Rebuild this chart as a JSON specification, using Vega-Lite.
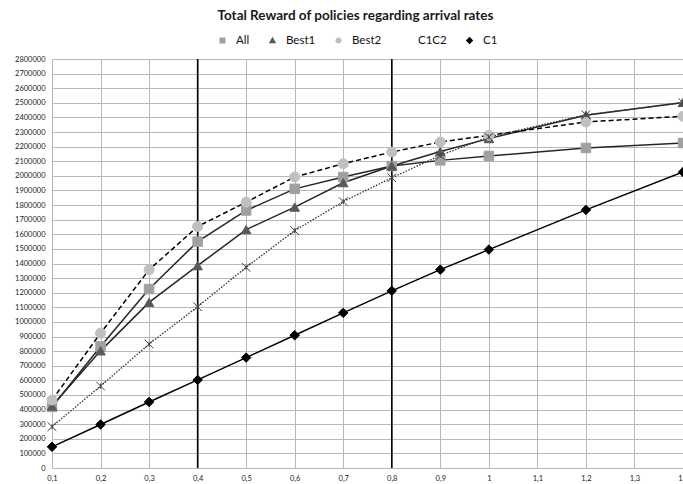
{
  "$schema": "https://vega.github.io/schema/vega-lite/v6.json",
  "autosize": {"type": "none"},
  "width": 631,
  "height": 409,
  "padding": {"left": 52, "top": 59, "right": 0, "bottom": 16},
  "background": "white",
  "title": {
    "text": "Total Reward of policies regarding arrival rates",
    "font": "Lato",
    "fontSize": 13.5,
    "fontWeight": "bold",
    "color": "#1a1a1a",
    "offset": 6,
    "frame": "group",
    "dx": -12
  },
  "config": {
    "view": {"stroke": null},
    "axis": {
      "labelFont": "Lato",
      "labelFontSize": 7.5,
      "labelColor": "#222222",
      "gridColor": "#B8B8B8",
      "gridWidth": 1,
      "ticks": false,
      "title": null
    },
    "legend": {"labelFont": "Lato", "labelFontSize": 11.5, "labelColor": "#111111"}
  },
  "data": {
    "values": [
      {"x": 0.1, "series": "All", "value": 418000},
      {"x": 0.2, "series": "All", "value": 832000},
      {"x": 0.3, "series": "All", "value": 1225000},
      {"x": 0.4, "series": "All", "value": 1550000},
      {"x": 0.5, "series": "All", "value": 1763000},
      {"x": 0.6, "series": "All", "value": 1911000},
      {"x": 0.7, "series": "All", "value": 1992000},
      {"x": 0.8, "series": "All", "value": 2067000},
      {"x": 0.9, "series": "All", "value": 2106000},
      {"x": 1.0, "series": "All", "value": 2136000},
      {"x": 1.2, "series": "All", "value": 2191000},
      {"x": 1.4, "series": "All", "value": 2225000},
      {"x": 0.1, "series": "Best1", "value": 424000},
      {"x": 0.2, "series": "Best1", "value": 802000},
      {"x": 0.3, "series": "Best1", "value": 1134000},
      {"x": 0.4, "series": "Best1", "value": 1385000},
      {"x": 0.5, "series": "Best1", "value": 1632000},
      {"x": 0.6, "series": "Best1", "value": 1786000},
      {"x": 0.7, "series": "Best1", "value": 1953000},
      {"x": 0.8, "series": "Best1", "value": 2067000},
      {"x": 0.9, "series": "Best1", "value": 2167000},
      {"x": 1.0, "series": "Best1", "value": 2255000},
      {"x": 1.2, "series": "Best1", "value": 2415000},
      {"x": 1.4, "series": "Best1", "value": 2503000},
      {"x": 0.1, "series": "Best2", "value": 465000},
      {"x": 0.2, "series": "Best2", "value": 923000},
      {"x": 0.3, "series": "Best2", "value": 1357000},
      {"x": 0.4, "series": "Best2", "value": 1653000},
      {"x": 0.5, "series": "Best2", "value": 1820000},
      {"x": 0.6, "series": "Best2", "value": 1992000},
      {"x": 0.7, "series": "Best2", "value": 2083000},
      {"x": 0.8, "series": "Best2", "value": 2163000},
      {"x": 0.9, "series": "Best2", "value": 2232000},
      {"x": 1.0, "series": "Best2", "value": 2277000},
      {"x": 1.2, "series": "Best2", "value": 2369000},
      {"x": 1.4, "series": "Best2", "value": 2408000},
      {"x": 0.1, "series": "C1C2", "value": 283000},
      {"x": 0.2, "series": "C1C2", "value": 561000},
      {"x": 0.3, "series": "C1C2", "value": 848000},
      {"x": 0.4, "series": "C1C2", "value": 1104000},
      {"x": 0.5, "series": "C1C2", "value": 1374000},
      {"x": 0.6, "series": "C1C2", "value": 1625000},
      {"x": 0.7, "series": "C1C2", "value": 1824000},
      {"x": 0.8, "series": "C1C2", "value": 1987000},
      {"x": 0.9, "series": "C1C2", "value": 2140000},
      {"x": 1.0, "series": "C1C2", "value": 2266000},
      {"x": 1.2, "series": "C1C2", "value": 2418000},
      {"x": 1.4, "series": "C1C2", "value": 2500000},
      {"x": 0.1, "series": "C1", "value": 145000},
      {"x": 0.2, "series": "C1", "value": 298000},
      {"x": 0.3, "series": "C1", "value": 452000},
      {"x": 0.4, "series": "C1", "value": 603000},
      {"x": 0.5, "series": "C1", "value": 756000},
      {"x": 0.6, "series": "C1", "value": 909000},
      {"x": 0.7, "series": "C1", "value": 1062000},
      {"x": 0.8, "series": "C1", "value": 1213000},
      {"x": 0.9, "series": "C1", "value": 1358000},
      {"x": 1.0, "series": "C1", "value": 1495000},
      {"x": 1.2, "series": "C1", "value": 1767000},
      {"x": 1.4, "series": "C1", "value": 2026000}
    ]
  },
  "encoding": {
    "x": {
      "field": "x",
      "type": "quantitative",
      "scale": {"domain": [0.1, 1.4], "nice": false, "zero": false},
      "axis": {
        "values": [0.1, 0.2, 0.3, 0.4, 0.5, 0.6, 0.7, 0.8, 0.9, 1.0, 1.1, 1.2, 1.3, 1.4],
        "labelExpr": "replace(format(datum.value, '~g'), '.', ',')",
        "grid": true,
        "domainColor": "#B8B8B8",
        "labelPadding": 6,
        "labelFlush": false,
        "labelOverlap": false
      }
    },
    "y": {
      "field": "value",
      "type": "quantitative",
      "scale": {"domain": [0, 2800000], "nice": false},
      "axis": {
        "values": [0, 100000, 200000, 300000, 400000, 500000, 600000, 700000, 800000, 900000, 1000000, 1100000, 1200000, 1300000, 1400000, 1500000, 1600000, 1700000, 1800000, 1900000, 2000000, 2100000, 2200000, 2300000, 2400000, 2500000, 2600000, 2700000, 2800000],
        "format": "d",
        "grid": true,
        "domain": false,
        "labelPadding": 7,
        "labelOverlap": false
      }
    }
  },
  "layer": [
    {
      "data": {"values": [{"x": 0.4}, {"x": 0.8}]},
      "mark": {"type": "rule", "color": "#000000", "strokeWidth": 1.5},
      "encoding": {"x": {"field": "x", "type": "quantitative"}, "y": null}
    },
    {
      "transform": [{"filter": "datum.series == 'All'"}],
      "mark": {"type": "line", "color": "#262626", "strokeWidth": 1.5}
    },
    {
      "transform": [{"filter": "datum.series == 'Best1'"}],
      "mark": {"type": "line", "color": "#262626", "strokeWidth": 1.5}
    },
    {
      "transform": [{"filter": "datum.series == 'Best2'"}],
      "mark": {"type": "line", "color": "#000000", "strokeWidth": 1.5, "strokeDash": [5, 3]}
    },
    {
      "transform": [{"filter": "datum.series == 'C1C2'"}],
      "mark": {"type": "line", "color": "#333333", "strokeWidth": 1.3, "strokeDash": [1.5, 1.5]}
    },
    {
      "transform": [{"filter": "datum.series == 'C1'"}],
      "mark": {"type": "line", "color": "#000000", "strokeWidth": 1.5}
    },
    {
      "transform": [{"filter": "datum.series == 'All'"}],
      "mark": {"type": "point", "shape": "square", "filled": true, "opacity": 1, "size": 90, "fill": "#A0A0A0", "stroke": "#A0A0A0", "strokeWidth": 1}
    },
    {
      "transform": [{"filter": "datum.series == 'Best1'"}],
      "mark": {"type": "point", "shape": "triangle-up", "filled": true, "opacity": 1, "size": 90, "fill": "#595959", "stroke": "#595959", "strokeWidth": 1}
    },
    {
      "transform": [{"filter": "datum.series == 'Best2'"}],
      "mark": {"type": "point", "shape": "circle", "filled": true, "opacity": 1, "size": 100, "fill": "#C0C0C0", "stroke": "#C0C0C0", "strokeWidth": 1}
    },
    {
      "transform": [{"filter": "datum.series == 'C1C2'"}],
      "mark": {"type": "point", "shape": "M-1,-1L1,1M-1,1L1,-1M0,-0.6V0.6", "filled": false, "opacity": 1, "size": 75, "stroke": "#404040", "strokeWidth": 1}
    },
    {
      "transform": [{"filter": "datum.series == 'C1'"}],
      "mark": {"type": "point", "shape": "diamond", "filled": true, "opacity": 1, "size": 90, "fill": "#000000", "stroke": "#000000", "strokeWidth": 1}
    },
    {
      "transform": [{"filter": "datum.x > 100"}],
      "mark": {"type": "point", "filled": false, "opacity": 1, "stroke": "#1a1a1a", "strokeWidth": 1.2},
      "encoding": {
        "shape": {
          "field": "series",
          "type": "nominal",
          "scale": {
            "domain": ["All", "Best1", "Best2", "C1C2", "C1"],
            "range": [
              "M-1,0H-0.26M0.26,0H1M-0.26,-0.26H0.26V0.26H-0.26Z",
              "M-1,0H-0.3M0.3,0H1M0,-0.32L0.32,0.24H-0.32Z",
              "M-1,0H-0.75M-0.55,0H-0.3M0.3,0H0.55M0.75,0H1M-0.27,0A0.27,0.27 0 1,0 0.27,0A0.27,0.27 0 1,0 -0.27,0Z",
              "M-1,0H-0.9M-0.8,0H-0.7M-0.6,0H-0.5M-0.4,0H-0.3M0.3,0H0.4M0.5,0H0.6M0.7,0H0.8M0.9,0H1M-0.25,-0.25L0.25,0.25M-0.25,0.25L0.25,-0.25M0,-0.25V0.25",
              "M-1,0H-0.3M0.3,0H1M0,-0.32L0.32,0L0,0.32L-0.32,0Z"
            ]
          },
          "legend": {
            "orient": "none",
            "legendX": 158,
            "legendY": -31,
            "direction": "horizontal",
            "title": null,
            "symbolSize": 529,
            "symbolStrokeColor": "#1a1a1a",
            "symbolStrokeWidth": 1.2,
            "symbolOpacity": 1,
            "labelOffset": 1,
            "columnPadding": 8,
            "gridAlign": "none"
          }
        },
        "fill": {
          "field": "series",
          "type": "nominal",
          "scale": {"domain": ["All", "Best1", "Best2", "C1C2", "C1"], "range": ["#A0A0A0", "#595959", "#C0C0C0", "#404040", "#000000"]},
          "legend": {
            "orient": "none",
            "legendX": 158,
            "legendY": -31,
            "direction": "horizontal",
            "title": null,
            "symbolSize": 529,
            "symbolStrokeColor": "#1a1a1a",
            "symbolStrokeWidth": 1.2,
            "labelOffset": 1,
            "columnPadding": 8,
            "gridAlign": "none"
          }
        }
      }
    }
  ]
}
